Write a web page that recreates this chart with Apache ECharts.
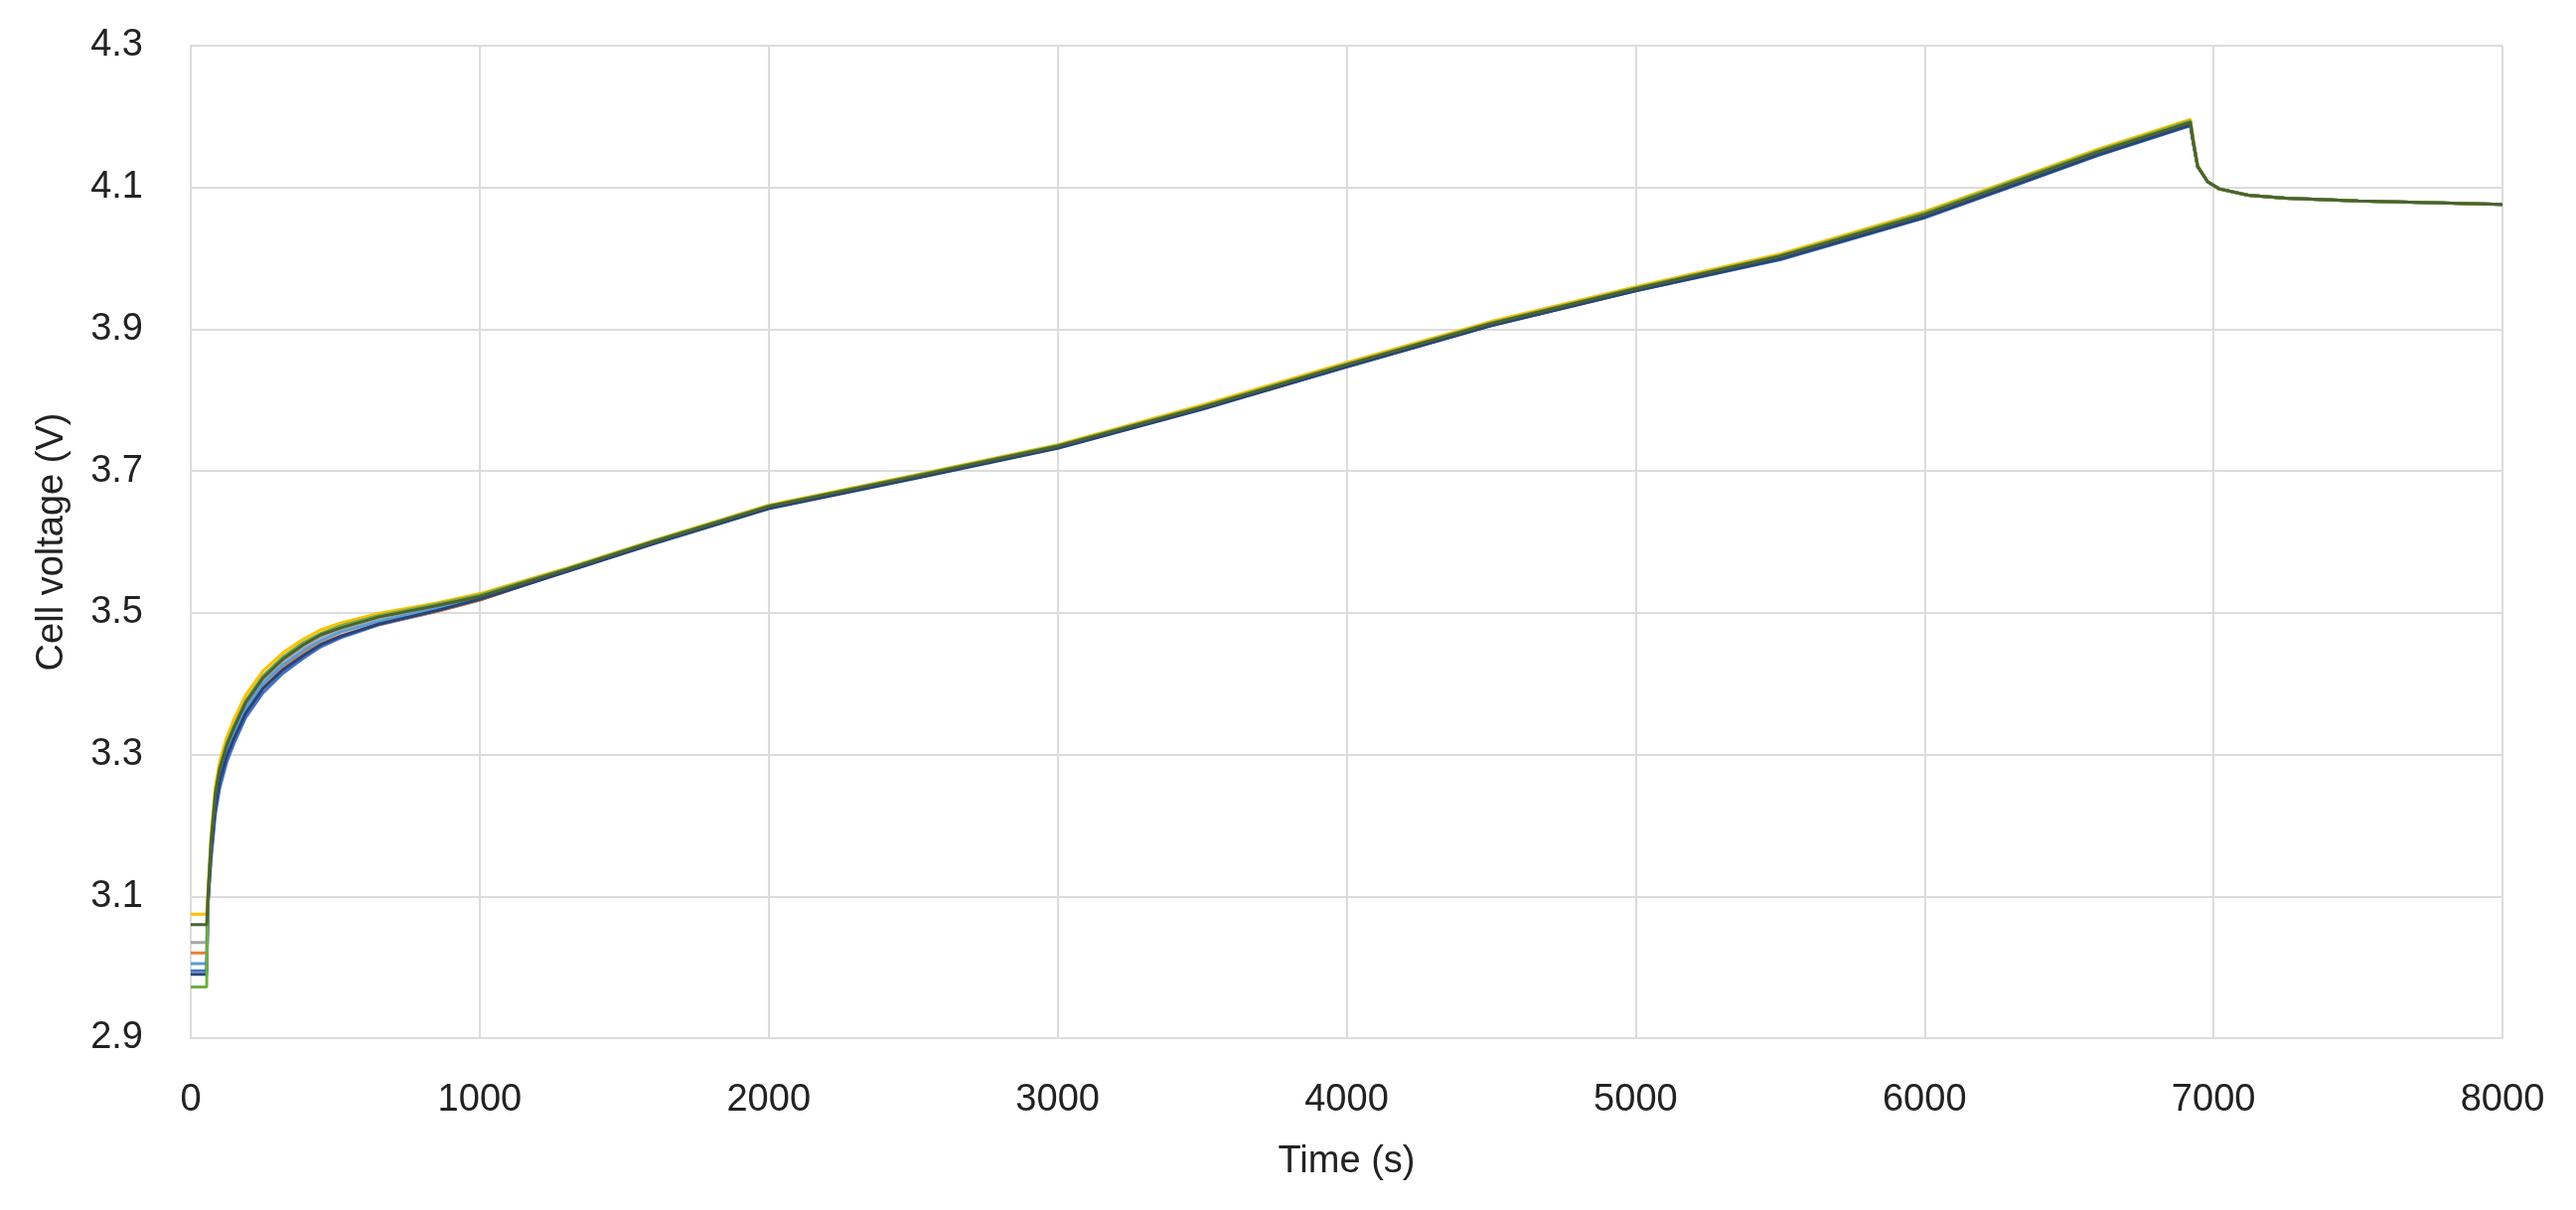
<!DOCTYPE html>
<html>
<head>
<meta charset="utf-8">
<title>Cell voltage</title>
<script src="https://cdn.jsdelivr.net/npm/echarts@6/dist/echarts.min.js"></script>
<style>
  html, body { margin: 0; padding: 0; background: #fff; }
  #chart { width: 2593px; height: 1218px; }
</style>
</head>
<body>
<div id="chart"></div>
<script>
// time axis (s), shared by every cell
const time = [0, 55, 60, 70, 85, 100, 125, 150, 190, 250, 320, 390, 450, 520, 650, 850, 1000,
  1300, 1600, 2000, 2500, 3000, 3500, 4000, 4500, 5000, 5500, 6000, 6300, 6600, 6920,
  6930, 6945, 6980, 7020, 7120, 7250, 7500, 8000];

// cell voltages (V)
const cellBlue = [2.995, 2.995, 3.09, 3.15, 3.215, 3.252, 3.29, 3.316, 3.352, 3.387, 3.415, 3.436, 3.452, 3.465, 3.483, 3.502, 3.518,
  3.559, 3.598, 3.648, 3.690, 3.733, 3.788, 3.847, 3.905, 3.954, 3.998, 4.057, 4.101, 4.145, 4.187,
  4.163, 4.129, 4.108, 4.098, 4.089, 4.085, 4.081, 4.076];
const cellOrange = [3.02, 3.02, 3.095, 3.16, 3.228, 3.264, 3.3, 3.325, 3.36, 3.395, 3.422, 3.443, 3.457, 3.468, 3.484, 3.502, 3.518,
  3.559, 3.599, 3.649, 3.691, 3.734, 3.789, 3.849, 3.907, 3.956, 4.001, 4.060, 4.104, 4.148, 4.190,
  4.164, 4.130, 4.108, 4.098, 4.089, 4.085, 4.081, 4.076];
const cellGray = [3.035, 3.035, 3.10, 3.17, 3.24, 3.275, 3.31, 3.335, 3.37, 3.405, 3.432, 3.452, 3.466, 3.477, 3.492, 3.509, 3.523,
  3.561, 3.600, 3.650, 3.692, 3.735, 3.790, 3.850, 3.908, 3.957, 4.002, 4.062, 4.106, 4.150, 4.192,
  4.165, 4.130, 4.108, 4.098, 4.089, 4.085, 4.081, 4.076];
const cellLightBlue = [3.005, 3.005, 3.098, 3.165, 3.235, 3.27, 3.305, 3.33, 3.365, 3.4, 3.427, 3.447, 3.461, 3.473, 3.488, 3.506, 3.520,
  3.559, 3.598, 3.648, 3.690, 3.733, 3.788, 3.848, 3.906, 3.955, 3.999, 4.059, 4.103, 4.147, 4.189,
  4.164, 4.130, 4.108, 4.098, 4.089, 4.085, 4.081, 4.076];
const cellDarkBlue = [2.99, 2.99, 3.092, 3.158, 3.225, 3.262, 3.298, 3.323, 3.358, 3.393, 3.42, 3.44, 3.455, 3.467, 3.484, 3.503, 3.519,
  3.558, 3.597, 3.647, 3.689, 3.732, 3.787, 3.847, 3.905, 3.954, 3.999, 4.058, 4.102, 4.146, 4.188,
  4.163, 4.129, 4.108, 4.098, 4.089, 4.085, 4.081, 4.076];
const cellYellow = [3.075, 3.075, 3.11, 3.185, 3.255, 3.29, 3.325, 3.35, 3.384, 3.418, 3.444, 3.463, 3.476, 3.486, 3.499, 3.514, 3.527,
  3.563, 3.602, 3.652, 3.694, 3.737, 3.793, 3.853, 3.911, 3.960, 4.006, 4.066, 4.110, 4.154, 4.196,
  4.168, 4.131, 4.108, 4.098, 4.089, 4.085, 4.081, 4.076];
const cellGreen = [2.972, 2.972, 3.105, 3.178, 3.247, 3.282, 3.317, 3.341, 3.376, 3.411, 3.438, 3.458, 3.471, 3.482, 3.496, 3.512, 3.525,
  3.562, 3.601, 3.651, 3.693, 3.736, 3.791, 3.851, 3.909, 3.958, 4.004, 4.064, 4.108, 4.152, 4.194,
  4.166, 4.130, 4.108, 4.098, 4.089, 4.085, 4.081, 4.076];
const cellOlive = [3.06, 3.06, 3.102, 3.174, 3.244, 3.279, 3.313, 3.338, 3.373, 3.408, 3.435, 3.455, 3.469, 3.479, 3.494, 3.510, 3.523,
  3.561, 3.600, 3.650, 3.692, 3.735, 3.790, 3.850, 3.908, 3.957, 4.003, 4.062, 4.106, 4.150, 4.192,
  4.165, 4.130, 4.108, 4.098, 4.089, 4.085, 4.081, 4.076];

const cells = [
  { name: 'Cell 1', values: cellBlue, color: '#4472C4' },
  { name: 'Cell 2', values: cellOrange, color: '#ED7D31' },
  { name: 'Cell 3', values: cellGray, color: '#A5A5A5' },
  { name: 'Cell 4', values: cellLightBlue, color: '#5B9BD5' },
  { name: 'Cell 5', values: cellDarkBlue, color: '#264478' },
  { name: 'Cell 6', values: cellYellow, color: '#FFC000' },
  { name: 'Cell 7', values: cellGreen, color: '#70AD47' },
  { name: 'Cell 8', values: cellOlive, color: '#4A6330' }
];

const textColor = '#222';
const gridColor = '#dcdcdc';
const fontFamily = 'Liberation Sans';

const chart = echarts.init(document.getElementById('chart'));
chart.setOption({
  backgroundColor: '#fff',
  animation: false,
  grid: { left: 192, right: 74, top: 46, bottom: 173 },
  xAxis: {
    type: 'value',
    min: 0,
    max: 8000,
    interval: 1000,
    name: 'Time (s)',
    nameLocation: 'middle',
    nameGap: 106,
    nameTextStyle: { color: textColor, fontSize: 38, fontFamily: fontFamily },
    axisLine: { show: true, lineStyle: { color: gridColor, width: 2 } },
    axisTick: { show: false },
    axisLabel: {
      color: textColor, fontSize: 38, fontFamily: fontFamily, margin: 44,
      formatter: v => String(v)
    },
    splitLine: { show: true, lineStyle: { color: gridColor, width: 2 } }
  },
  yAxis: {
    type: 'value',
    min: 2.9,
    max: 4.3,
    interval: 0.2,
    name: 'Cell voltage (V)',
    nameLocation: 'middle',
    nameGap: 120,
    nameTextStyle: { color: textColor, fontSize: 38, fontFamily: fontFamily },
    axisLine: { show: true, lineStyle: { color: gridColor, width: 2 } },
    axisTick: { show: false },
    axisLabel: {
      color: textColor, fontSize: 38, fontFamily: fontFamily, margin: 48,
      formatter: v => v.toFixed(1)
    },
    splitLine: { show: true, lineStyle: { color: gridColor, width: 2 } }
  },
  series: cells.map(c => ({
    name: c.name,
    type: 'line',
    data: time.map((t, i) => [t, c.values[i]]),
    showSymbol: false,
    lineStyle: { color: c.color, width: 3 },
    itemStyle: { color: c.color }
  }))
});
</script>
</body>
</html>
